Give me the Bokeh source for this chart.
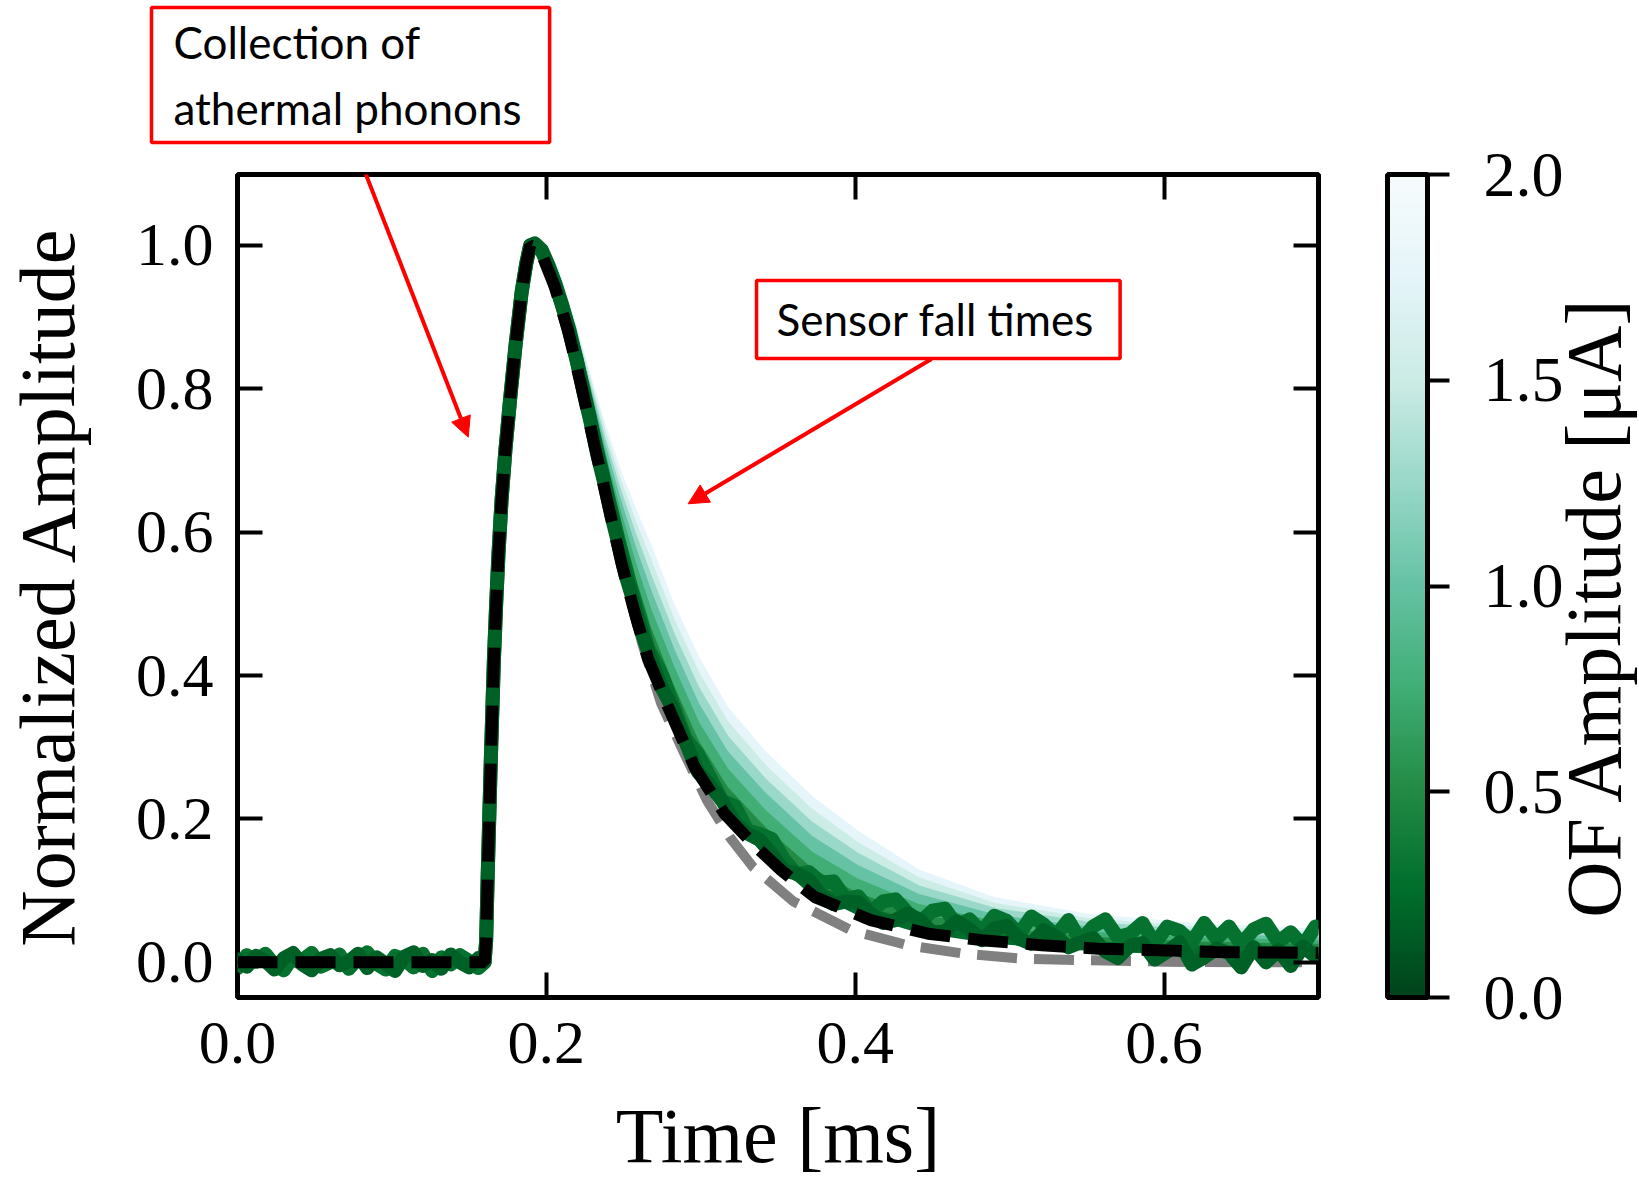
import math
from bokeh.plotting import figure
from bokeh.models import (Range1d, LinearAxis, FixedTicker, PrintfTickFormatter, ColorBar,
                          LinearColorMapper, Label, Arrow, NormalHead, ColumnDataSource)
from bokeh.palettes import BuGn9
from bokeh.transform import transform
from bokeh.embed import file_html
from bokeh.resources import INLINE

try:
    from bokeh.palettes import interp_palette
    PALETTE = interp_palette(BuGn9, 256)
except Exception:
    PALETTE = BuGn9

# ---------------- data ----------------
X_TICKS = [0.0, 0.2, 0.4, 0.6]
Y_TICKS = [0.0, 0.2, 0.4, 0.6, 0.8, 1.0]
CB_TICKS = [0.0, 0.5, 1.0, 1.5, 2.0]

# shared leading edge of all pulses
rise_t = [0.1600, 0.1610, 0.1620, 0.1630, 0.1640, 0.1650, 0.1660, 0.1675, 0.1690, 0.1710,
          0.1735, 0.1765, 0.1800, 0.1840, 0.1870, 0.1895]
rise_y = [0.0, 0.03, 0.12, 0.20, 0.28, 0.35, 0.42, 0.50, 0.57, 0.645,
          0.715, 0.785, 0.86, 0.935, 0.975, 1.0]

# smooth averaged pulses (falling edges), by OF amplitude [uA]
band_fall_t = [0.1925, 0.197, 0.205, 0.215, 0.225, 0.235, 0.245, 0.255, 0.265, 0.280,
               0.296, 0.315, 0.340, 0.370, 0.400, 0.440, 0.490, 0.550, 0.620, 0.700]
band_amp = [0.25, 0.5, 0.75, 1.0, 1.25, 1.5, 1.75]
fall_a025 = [0.999, 0.989, 0.946, 0.876, 0.784, 0.688, 0.598, 0.514, 0.440, 0.360,
             0.283, 0.218, 0.163, 0.106, 0.075, 0.049, 0.033, 0.023, 0.017, 0.015]
fall_a050 = [0.999, 0.990, 0.949, 0.879, 0.790, 0.698, 0.612, 0.533, 0.463, 0.382,
             0.305, 0.240, 0.183, 0.126, 0.091, 0.061, 0.041, 0.029, 0.022, 0.019]
fall_a075 = [0.999, 0.991, 0.953, 0.884, 0.798, 0.710, 0.629, 0.555, 0.490, 0.409,
             0.332, 0.266, 0.207, 0.149, 0.111, 0.075, 0.051, 0.036, 0.028, 0.024]
fall_a100 = [0.999, 0.992, 0.956, 0.888, 0.805, 0.721, 0.645, 0.577, 0.516, 0.434,
             0.358, 0.290, 0.231, 0.171, 0.130, 0.089, 0.060, 0.043, 0.034, 0.028]
fall_a125 = [0.999, 0.993, 0.959, 0.891, 0.811, 0.731, 0.659, 0.596, 0.538, 0.456,
             0.381, 0.312, 0.251, 0.191, 0.147, 0.101, 0.069, 0.050, 0.039, 0.032]
fall_a150 = [0.999, 0.994, 0.962, 0.895, 0.817, 0.741, 0.673, 0.613, 0.559, 0.476,
             0.402, 0.332, 0.270, 0.209, 0.162, 0.112, 0.076, 0.055, 0.043, 0.036]
fall_a175 = [1.000, 0.995, 0.965, 0.898, 0.823, 0.750, 0.686, 0.631, 0.580, 0.497,
             0.423, 0.352, 0.289, 0.227, 0.178, 0.123, 0.084, 0.061, 0.048, 0.040]

# noisy low-amplitude pulses
noise_base_t = [0.000, 0.006, 0.012, 0.018, 0.024, 0.030, 0.036, 0.042, 0.048, 0.054,
                0.060, 0.066, 0.072, 0.078, 0.084, 0.090, 0.096, 0.102, 0.108, 0.114,
                0.120, 0.126, 0.132, 0.138, 0.144, 0.150, 0.156]
noise_fall_t = [0.1925, 0.197, 0.2015, 0.206, 0.2105, 0.215, 0.2195, 0.224, 0.2285, 0.233,
                0.2375, 0.242, 0.2465, 0.251, 0.2555, 0.260,
                0.266, 0.274, 0.282, 0.290, 0.298, 0.306, 0.314, 0.322, 0.330, 0.338,
                0.346, 0.354, 0.362, 0.370, 0.378, 0.386, 0.394, 0.402, 0.410, 0.418,
                0.426, 0.434, 0.442, 0.450, 0.458, 0.466, 0.474, 0.482, 0.490, 0.498,
                0.506, 0.514, 0.522, 0.530, 0.538, 0.546, 0.554, 0.562, 0.570, 0.578,
                0.586, 0.594, 0.602, 0.610, 0.618, 0.626, 0.634, 0.642, 0.650, 0.658,
                0.666, 0.674, 0.682, 0.690, 0.698]
noisy_amp = [0.30, 0.18]
n1_base = [-0.008, 0.010, 0.001, 0.012, -0.004, -0.011, 0.008, 0.003, 0.013, -0.006,
           0.000, 0.011, -0.009, 0.006, 0.014, -0.002, -0.010, 0.009, 0.004, -0.007,
           0.012, -0.012, 0.007, -0.003, 0.010, 0.002, -0.008]
n1_fall = [1.000, 0.992, 0.970, 0.946, 0.914, 0.882, 0.840, 0.800, 0.757, 0.714,
           0.672, 0.632, 0.591, 0.554, 0.517, 0.485,
           0.438, 0.405, 0.360, 0.313, 0.291, 0.258, 0.225, 0.218, 0.185, 0.179,
           0.172, 0.143, 0.123, 0.126, 0.111, 0.113, 0.088, 0.092, 0.070, 0.085,
           0.088, 0.069, 0.056, 0.072, 0.075, 0.051, 0.060, 0.042, 0.065, 0.058,
           0.039, 0.064, 0.053, 0.037, 0.059, 0.030, 0.050, 0.060, 0.035, 0.040,
           0.055, 0.026, 0.050, 0.044, 0.028, 0.055, 0.033, 0.050, 0.025, 0.046,
           0.054, 0.028, 0.042, 0.023, 0.050]
n2_base = [0.004, -0.006, 0.009, 0.002, -0.010, 0.006, 0.013, -0.003, -0.011, 0.005,
           0.010, -0.004, 0.001, 0.012, -0.008, 0.007, -0.002, -0.012, 0.008, 0.014,
           -0.005, 0.003, -0.009, 0.011, 0.000, -0.007, 0.006]
n2_fall = [1.003, 0.994, 0.972, 0.944, 0.915, 0.878, 0.842, 0.796, 0.755, 0.708,
           0.669, 0.624, 0.585, 0.542, 0.510, 0.472,
           0.433, 0.386, 0.353, 0.308, 0.266, 0.247, 0.225, 0.195, 0.180, 0.171,
           0.151, 0.128, 0.124, 0.115, 0.093, 0.081, 0.085, 0.084, 0.068, 0.055,
           0.059, 0.068, 0.059, 0.041, 0.043, 0.057, 0.046, 0.031, 0.047, 0.051,
           0.033, 0.026, 0.045, 0.036, 0.021, 0.028, 0.034, 0.015, 0.006, 0.023,
           0.027, 0.004, 0.015, 0.028, -0.003, 0.007, 0.019, 0.013, -0.007, 0.021,
           0.000, 0.017, -0.005, 0.022, 0.008]

# templates
black_fall_t = [0.1925, 0.197, 0.2055, 0.2141, 0.2228, 0.2314, 0.240, 0.2487, 0.2573, 0.2616,
                0.2659, 0.2789, 0.2961, 0.3155, 0.3340, 0.3523, 0.3739, 0.4105, 0.4472, 0.4818,
                0.5207, 0.5574, 0.5962, 0.6328, 0.700]
black_fall_y = [0.998, 0.988, 0.942, 0.881, 0.802, 0.719, 0.638, 0.556, 0.487, 0.455,
                0.423, 0.356, 0.272, 0.207, 0.165, 0.128, 0.091, 0.0586, 0.040, 0.031,
                0.024, 0.019, 0.017, 0.0144, 0.013]
gray_fall_t = [0.1925, 0.197, 0.2055, 0.2141, 0.2228, 0.2314, 0.240, 0.2487, 0.2573, 0.262,
               0.2742, 0.289, 0.304, 0.319, 0.3338, 0.360, 0.3976, 0.4343, 0.471, 0.5097,
               0.550, 0.600, 0.650, 0.700]
gray_fall_y = [0.998, 0.988, 0.942, 0.881, 0.802, 0.719, 0.638, 0.556, 0.487, 0.445,
               0.362, 0.293, 0.226, 0.174, 0.133, 0.085, 0.0446, 0.0237, 0.012, 0.005,
               0.003, 0.001, 0.0, 0.0]

CB_TITLE = "OF Amplitude [μA]"
NOTE_1 = "Collection of\nathermal phonons"
NOTE_2 = "Sensor fall times"

# ---------------- figure ----------------
p = figure(frame_width=1081, frame_height=823, output_backend="svg", toolbar_location=None,
           x_range=Range1d(0, 0.7), y_range=Range1d(-0.049, 1.099),
           min_border_left=236, min_border_right=322, min_border_top=174, min_border_bottom=182,
           background_fill_color="white", border_fill_color="white")
p.xgrid.visible = False
p.ygrid.visible = False
p.outline_line_color = "black"
p.outline_line_width = 5

SERIF = "Liberation Serif"
ANN = "Lato"
mapper = LinearColorMapper(palette=PALETTE, low=0.0, high=2.0)

def style_axis(ax, ticks, labels=True):
    ax.ticker = FixedTicker(ticks=ticks)
    ax.formatter = PrintfTickFormatter(format="%.1f")
    ax.axis_line_color = None
    ax.major_tick_in = 25
    ax.major_tick_out = 0
    ax.major_tick_line_width = 4
    ax.major_tick_line_color = "black"
    ax.minor_tick_line_color = None
    ax.major_label_text_font = SERIF
    ax.axis_label_text_font = SERIF
    ax.axis_label_text_font_style = "normal"
    ax.axis_label_text_color = "black"
    ax.axis_label_text_font_size = "78px"
    if labels:
        ax.major_label_text_font_size = "62px"
        ax.major_label_text_color = "black"
    else:
        ax.major_label_text_font_size = "1px"
        ax.major_label_text_color = None
        ax.major_label_standoff = 0

style_axis(p.xaxis[0], X_TICKS)
style_axis(p.yaxis[0], Y_TICKS)
p.xaxis[0].axis_label = "Time [ms]"
p.yaxis[0].axis_label = "Normalized Amplitude"
p.xaxis[0].major_label_standoff = 25
p.yaxis[0].major_label_standoff = 24
p.xaxis[0].axis_label_standoff = 26
p.yaxis[0].axis_label_standoff = 42

top_ax = LinearAxis()
style_axis(top_ax, X_TICKS, labels=False)
p.add_layout(top_ax, "above")
right_ax = LinearAxis()
style_axis(right_ax, Y_TICKS, labels=False)
p.add_layout(right_ax, "right")

# ---- band of averaged pulses ----
band_curves = [fall_a025, fall_a050, fall_a075, fall_a100, fall_a125, fall_a150, fall_a175]
band_t = [0.0] + rise_t + band_fall_t
band_y = [[0.0] + rise_y + c for c in band_curves]

patch_xs, patch_ys, patch_amp = [], [], []
for k in range(1, len(band_y)):
    patch_xs.append(band_t + band_t[::-1])
    patch_ys.append(band_y[k] + band_y[k - 1][::-1])
    patch_amp.append(band_amp[k])
p.patches(xs="xs", ys="ys", source=ColumnDataSource(dict(xs=patch_xs, ys=patch_ys, amp=patch_amp)),
          fill_color=transform("amp", mapper), line_color=None)

line_src = ColumnDataSource(dict(xs=[band_t for _ in band_y][::-1], ys=band_y[::-1], amp=band_amp[::-1]))
p.multi_line(xs="xs", ys="ys", source=line_src, line_color=transform("amp", mapper),
             line_width=10, line_join="round", line_cap="round")

# ---- gray template ----
gray_t = [0.0] + rise_t + gray_fall_t
gray_y = [0.0] + rise_y + gray_fall_y
p.line(gray_t, gray_y, line_color="#808080", line_width=10, line_dash="40 17", line_cap="butt")

# ---- noisy low-amplitude pulses ----
noise_t = noise_base_t + rise_t + noise_fall_t
noisy_y = [n1_base + rise_y + n1_fall, n2_base + rise_y + n2_fall]
p.multi_line(xs="xs", ys="ys",
             source=ColumnDataSource(dict(xs=[noise_t, noise_t], ys=noisy_y, amp=noisy_amp)),
             line_color=transform("amp", mapper), line_width=14, line_join="round", line_cap="round")

# ---- black template ----
black_t = [0.0] + rise_t + black_fall_t
black_y = [0.0] + rise_y + black_fall_y
p.line(black_t, black_y, line_color="black", line_width=12, line_dash="40 18", line_cap="butt")

# ---- colour-bar title (rotated label in the right side panel) ----
p.add_layout(Label(x=275, y=391, x_units="screen", y_units="screen", text=CB_TITLE,
                   angle=math.pi / 2, text_align="center", text_baseline="middle",
                   text_font=SERIF, text_font_size="78px", text_color="black"), "right")

# ---- colour bar ----
cb = ColorBar(color_mapper=mapper, ticker=FixedTicker(ticks=CB_TICKS),
              formatter=PrintfTickFormatter(format="%.1f"), width=40,
              bar_line_color="black", bar_line_width=5,
              major_tick_line_color="black", major_tick_line_width=4,
              major_tick_in=0, major_tick_out=22, minor_tick_line_color=None,
              major_label_text_font=SERIF, major_label_text_font_size="64px",
              major_label_text_color="black", label_standoff=34,
              location=(-18, 0), padding=0, margin=0,
              background_fill_color=None, border_line_color=None)
p.add_layout(cb, "right")

# ---- annotation boxes ----
# box above the frame lives in the top side panel (screen units from the panel's bottom-left)
p.add_layout(Label(x=-86, y=167, x_units="screen", y_units="screen", text=NOTE_1,
                   text_font=ANN, text_font_size="44px", text_color="black",
                   text_align="left", text_baseline="top", text_line_height=1.27,
                   border_line_color="red", border_line_width=3.5,
                   background_fill_color="white", padding=(22, 28, 8, 9)), "above")

p.add_layout(Label(x=0.3361, y=0.9512, text=NOTE_2,
                   text_font=ANN, text_font_size="44px", text_color="black",
                   text_align="left", text_baseline="top",
                   border_line_color="red", border_line_width=3.5,
                   background_fill_color="white", padding=(20, 26, 13, 13)))

p.add_layout(Arrow(end=NormalHead(size=20, fill_color="red", line_color="red"),
                   x_start=0.0751, y_start=1.1437, x_end=0.1494, y_end=0.7326,
                   line_color="red", line_width=4))
p.add_layout(Arrow(end=NormalHead(size=20, fill_color="red", line_color="red"),
                   x_start=0.4494, y_start=0.8417, x_end=0.2918, y_end=0.6397,
                   line_color="red", line_width=4))

open("out.html", "w").write(file_html(p, INLINE))
